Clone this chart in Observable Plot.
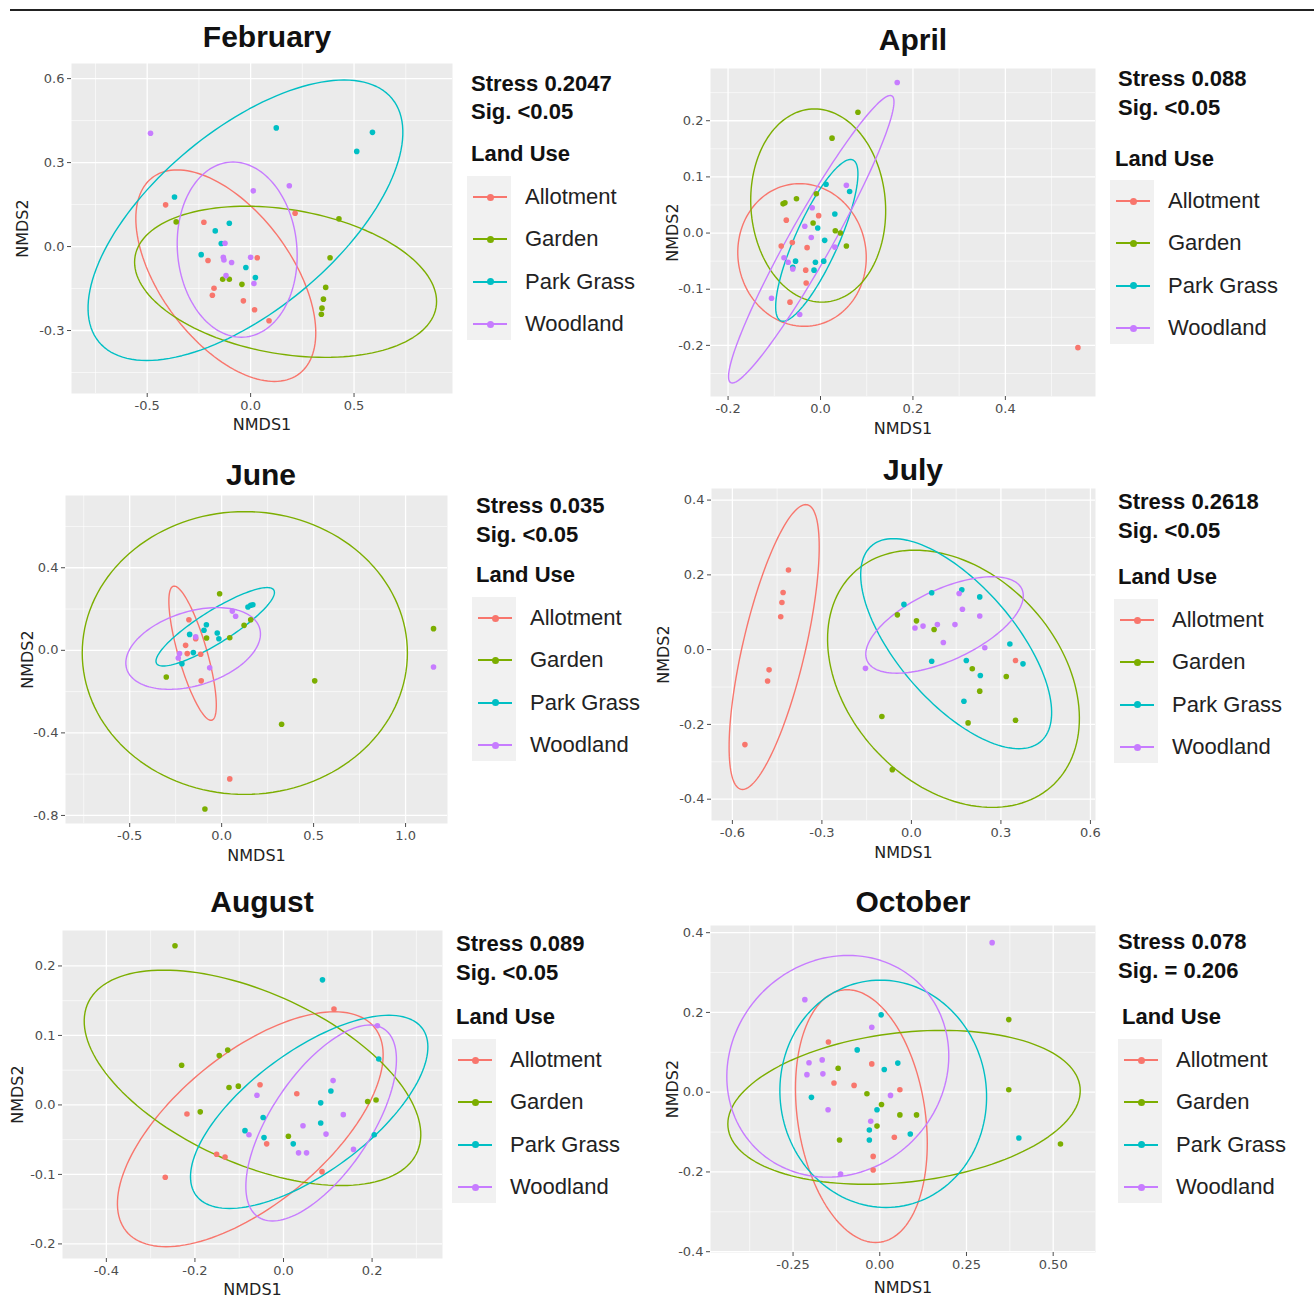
<!DOCTYPE html>
<html><head><meta charset="utf-8">
<script src="https://cdn.jsdelivr.net/npm/d3@7"></script>
<script src="https://cdn.jsdelivr.net/npm/@observablehq/plot@0.6"></script>
<style>
body{margin:0;background:#fff;}
#root{position:relative;width:1314px;height:1300px;overflow:hidden;font-family:"Liberation Sans",Arial,sans-serif;color:#111;}
.t{position:absolute;white-space:nowrap;line-height:1;transform:translateY(-50%);}
.p{position:absolute;}
</style></head><body><div id="root"></div>
<script>
const GROUPS = ["Allotment","Garden","Park Grass","Woodland"];
const COLORS = ["#F8766D","#7CAE00","#00BFC4","#C77CFF"];

const panelTitles = ["February","April","June","July","August","October"];
const stressLabels = ["Stress 0.2047","Stress 0.088","Stress 0.035","Stress 0.2618","Stress 0.089","Stress 0.078"];
const sigLabels = ["Sig. <0.05","Sig. <0.05","Sig. <0.05","Sig. <0.05","Sig. <0.05","Sig. = 0.206"];

// axis ranges and ticks
const xDomains = [[-0.866,0.976],[-0.238,0.595],[-0.849,1.228],[-0.67,0.617],[-0.499,0.359],[-0.488,0.622]];
const yDomains = [[-0.525,0.654],[-0.291,0.293],[-0.839,0.75],[-0.457,0.431],[-0.221,0.251],[-0.402,0.418]];
const xTicks = [[-0.5,0,0.5],[-0.2,0,0.2,0.4],[-0.5,0,0.5,1.0],[-0.6,-0.3,0,0.3,0.6],[-0.4,-0.2,0,0.2],[-0.25,0,0.25,0.5]];
const yTicks = [[-0.3,0,0.3,0.6],[-0.2,-0.1,0,0.1,0.2],[-0.8,-0.4,0,0.4],[-0.4,-0.2,0,0.2,0.4],[-0.2,-0.1,0,0.1,0.2],[-0.4,-0.2,0,0.2,0.4]];
const xMinor = [[-0.75,-0.25,0.25,0.75],[-0.1,0.1,0.3,0.5],[-0.75,-0.25,0.25,0.75],[-0.45,-0.15,0.15,0.45],[-0.3,-0.1,0.1,0.3],[-0.375,-0.125,0.125,0.375]];
const yMinor = [[-0.45,-0.15,0.15,0.45],[-0.25,-0.15,-0.05,0.05,0.15,0.25],[-0.6,-0.2,0.2,0.6],[-0.3,-0.1,0.1,0.3],[-0.15,-0.05,0.05,0.15],[-0.3,-0.1,0.1,0.3]];
const xTickDecimals = [1,1,1,1,1,2];
const yTickDecimals = [1,1,1,1,1,1];

// ---- February
const febAllotment = [[-0.411,0.149],[-0.226,0.087],[-0.206,-0.05],[0.032,-0.04],[0.215,0.119],[-0.177,-0.149],[-0.185,-0.174],[-0.035,-0.194],[0.019,-0.226],[0.089,-0.265]];
const febGarden = [[-0.36,0.088],[0.427,0.099],[0.384,-0.04],[0.363,-0.146],[0.352,-0.188],[0.345,-0.22],[0.342,-0.242],[-0.135,-0.117],[-0.103,-0.117],[-0.042,-0.135]];
const febPark = [[0.124,0.424],[0.589,0.408],[0.513,0.34],[-0.368,0.177],[-0.103,0.083],[-0.171,0.056],[-0.142,0.011],[-0.239,-0.029],[-0.023,-0.075],[0.023,-0.111]];
const febWood = [[-0.484,0.405],[0.013,0.199],[0.187,0.217],[-0.124,0.012],[-0.132,-0.038],[-0.129,-0.048],[-0.092,-0.057],[0.0,-0.038],[-0.119,-0.104],[0.016,-0.132]];
// ellipses: [group, centre x, centre y, half x-extent, half y-extent, x offset of top point]
const febEllipses = [["Allotment",-0.12,-0.104,0.435,0.378,-0.235],["Garden",0.169,-0.126,0.73,0.27,-0.19],["Park Grass",-0.025,0.094,0.761,0.501,0.477],["Woodland",-0.065,-0.011,0.29,0.313,-0.02]];

// ---- April
const aprAllotment = [[-0.074,0.023],[-0.004,0.031],[-0.085,-0.023],[-0.061,-0.017],[-0.029,-0.026],[-0.032,-0.066],[-0.031,-0.089],[-0.066,-0.123],[0.557,-0.204]];
const aprGarden = [[0.081,0.215],[0.025,0.169],[-0.081,0.052],[-0.077,0.054],[-0.052,0.061],[-0.009,0.07],[-0.016,0.018],[0.032,0.004],[0.043,0.0],[0.056,-0.023]];
const aprPark = [[0.012,0.087],[0.063,0.074],[0.031,0.034],[-0.006,0.009],[0.009,-0.013],[-0.054,-0.05],[-0.011,-0.052],[0.007,-0.05],[-0.014,-0.066],[-0.06,-0.061]];
const aprWood = [[0.166,0.268],[0.056,0.085],[-0.018,0.045],[-0.034,0.012],[-0.02,-0.008],[-0.07,-0.052],[-0.06,-0.064],[0.031,-0.025],[-0.106,-0.116],[-0.045,-0.145],[-0.079,-0.044]];
const aprEllipses = [["Allotment",-0.04,-0.039,0.139,0.127,-0.005],["Garden",-0.005,0.049,0.146,0.172,-0.008],["Park Grass",-0.008,-0.013,0.089,0.144,0.073],["Woodland",-0.02,-0.011,0.179,0.256,0.171]];

// ---- June
const junAllotment = [[-0.178,0.148],[-0.196,0.024],[-0.187,-0.016],[-0.114,-0.019],[-0.111,-0.148],[0.044,-0.623],[-0.141,0.056]];
const junGarden = [[-0.011,0.274],[1.152,0.105],[-0.301,-0.129],[0.506,-0.148],[0.326,-0.358],[-0.091,-0.769],[0.122,0.121],[0.158,0.148],[0.044,0.061],[-0.082,0.06]];
const junPark = [[0.158,0.218],[0.143,0.21],[0.17,0.221],[-0.083,0.124],[-0.096,0.097],[-0.174,0.077],[-0.024,0.084],[-0.015,0.056],[-0.154,-0.011],[-0.216,-0.065]];
const junWood = [[1.152,-0.081],[0.058,0.19],[0.076,0.165],[-0.141,0.065],[-0.065,-0.085],[-0.229,-0.016],[-0.236,-0.037]];
const junEllipses = [["Allotment",-0.158,-0.014,0.129,0.325,-0.1],["Garden",0.126,-0.013,0.884,0.685,0.0],["Park Grass",-0.035,0.114,0.322,0.19,0.282],["Woodland",-0.155,0.009,0.366,0.198,0.13]];

// ---- July
const julAllotment = [[-0.412,0.213],[-0.43,0.153],[-0.434,0.126],[-0.438,0.088],[-0.477,-0.054],[-0.482,-0.084],[-0.558,-0.254],[0.349,-0.029]];
const julGarden = [[-0.047,0.093],[0.017,0.077],[0.076,0.054],[0.204,-0.051],[0.318,-0.072],[0.229,-0.111],[-0.099,-0.179],[0.19,-0.196],[0.349,-0.189],[-0.064,-0.321]];
const julPark = [[-0.025,0.121],[0.068,0.152],[0.169,0.16],[0.229,0.141],[0.33,0.015],[0.374,-0.038],[0.068,-0.031],[0.184,-0.029],[0.231,-0.069],[0.176,-0.138]];
const julWood = [[0.16,0.15],[0.171,0.108],[0.229,0.09],[0.012,0.058],[0.039,0.063],[0.087,0.067],[0.146,0.067],[0.107,0.019],[0.246,0.005],[-0.154,-0.05]];
const julEllipses = [["Allotment",-0.46,0.007,0.151,0.381,0.106],["Garden",0.141,-0.078,0.422,0.344,-0.13],["Park Grass",0.15,0.016,0.32,0.281,-0.21],["Woodland",0.111,0.066,0.264,0.129,0.16]];

// ---- August
const augAllotment = [[0.114,0.138],[-0.053,0.029],[0.03,0.016],[-0.218,-0.013],[-0.038,-0.056],[-0.151,-0.071],[-0.132,-0.075],[0.087,-0.096],[-0.267,-0.104]];
const augGarden = [[-0.245,0.229],[-0.23,0.057],[-0.145,0.071],[-0.126,0.079],[-0.123,0.025],[-0.102,0.027],[-0.188,-0.01],[0.011,-0.045],[0.19,0.005],[0.209,0.007]];
const augPark = [[0.088,0.18],[0.215,0.066],[0.084,0.003],[0.107,0.02],[-0.046,-0.018],[-0.087,-0.037],[-0.044,-0.047],[0.022,-0.056],[0.084,-0.026],[0.205,-0.043]];
const augWood = [[0.212,0.114],[0.112,0.035],[-0.06,0.014],[0.135,-0.014],[0.044,-0.03],[-0.078,-0.043],[0.096,-0.042],[0.034,-0.069],[0.052,-0.069],[0.158,-0.064]];
const augEllipses = [["Allotment",-0.075,-0.035,0.3,0.169,0.19],["Garden",-0.07,0.039,0.38,0.155,-0.2],["Park Grass",0.058,-0.01,0.268,0.139,0.18],["Woodland",0.085,-0.026,0.17,0.141,0.11]];

// ---- October
const octAllotment = [[-0.148,0.126],[-0.023,0.071],[-0.132,0.023],[-0.074,0.017],[0.058,0.006],[0.042,-0.113],[-0.019,-0.161],[-0.019,-0.195]];
const octGarden = [[0.372,0.182],[0.372,0.006],[0.521,-0.13],[-0.12,0.06],[-0.037,-0.004],[0.005,-0.031],[-0.008,-0.085],[0.058,-0.057],[0.106,-0.057],[-0.116,-0.12]];
const octPark = [[0.004,0.194],[-0.065,0.106],[0.013,0.057],[0.052,0.073],[-0.197,-0.013],[-0.008,-0.044],[-0.03,-0.095],[-0.03,-0.12],[0.088,-0.105],[0.401,-0.115]];
const octWood = [[0.324,0.375],[-0.216,0.232],[-0.023,0.163],[-0.204,0.074],[-0.166,0.081],[-0.21,0.044],[-0.164,0.046],[-0.149,-0.044],[0.031,-0.008],[-0.026,-0.073],[-0.113,-0.205]];
const octEllipses = [["Allotment",-0.053,-0.06,0.19,0.317,-0.041],["Garden",0.07,-0.038,0.508,0.193,0.11],["Park Grass",0.01,-0.004,0.298,0.285,-0.008],["Woodland",-0.121,0.065,0.32,0.278,0.03]];

const panelPoints = [
  [febAllotment,febGarden,febPark,febWood],
  [aprAllotment,aprGarden,aprPark,aprWood],
  [junAllotment,junGarden,junPark,junWood],
  [julAllotment,julGarden,julPark,julWood],
  [augAllotment,augGarden,augPark,augWood],
  [octAllotment,octGarden,octPark,octWood]
];
const panelEllipses = [febEllipses,aprEllipses,junEllipses,julEllipses,augEllipses,octEllipses];

// ---- layout (pixels)
const frames = [[71,63,452,393],[710,68,1095,396],[65,495,447,823],[711,488,1095,820],[62,930,442,1258],[710,925,1095,1252]];
const titlePos = [[267,37],[913,40],[261,475],[913,470],[262,902],[913,902]];
const stressPos = [[471,84,112,471,154],[1118,79,108,1115,159],[476,506,535,476,575],[1118,502,531,1118,577],[456,944,973,456,1017],[1118,942,971,1122,1017]];
const legendPos = [[525,197],[1168,201],[530,618],[1172,620],[510,1060],[1176,1060]];
const ylabDx = [-49,-38,-38,-48,-45,-38];
const xlabDy = [31,32,32,32,31,35];

const root = document.getElementById("root");
function addText(txt, x, y, css, center) {
  const d = document.createElement("div");
  d.className = "t";
  d.textContent = txt;
  d.style.left = x + "px"; d.style.top = y + "px";
  Object.assign(d.style, css);
  if (center) d.style.transform = "translate(-50%,-50%)";
  root.appendChild(d);
  return d;
}
function addBox(x, y, w, h, css) {
  const d = document.createElement("div");
  d.className = "p";
  Object.assign(d.style, {left: x + "px", top: y + "px", width: w + "px", height: h + "px"}, css);
  root.appendChild(d);
  return d;
}

function ellipseOutline(e) {
  const [g, cx, cy, W, H, dx] = e;
  const bx = Math.sqrt(Math.max(W * W - dx * dx, 0));
  const out = [];
  for (let i = 0; i <= 144; i++) {
    const t = i / 144 * 2 * Math.PI;
    out.push({group: g, x: cx + dx * Math.cos(t) + bx * Math.sin(t), y: cy + H * Math.cos(t)});
  }
  return out;
}

// top rule
addBox(10, 9, 1304, 2, {background: "#222"});

const ML = 60, MR = 10, MT = 10, MB = 50;
for (let p = 0; p < 6; p++) {
  const [L, T, R, B] = frames[p];
  const pts = [];
  panelPoints[p].forEach((arr, gi) => arr.forEach(([x, y]) => pts.push({group: GROUPS[gi], x, y})));
  const ell = panelEllipses[p].flatMap(ellipseOutline);
  const nx = xTickDecimals[p], ny = yTickDecimals[p];
  const chart = Plot.plot({
    width: (R - L) + ML + MR, height: (B - T) + MT + MB,
    marginLeft: ML, marginRight: MR, marginTop: MT, marginBottom: MB,
    x: {domain: xDomains[p], label: null},
    y: {domain: yDomains[p], label: null},
    color: {domain: GROUPS, range: COLORS},
    style: {fontFamily: "DejaVu Sans", fontSize: "13px", background: "transparent", overflow: "visible"},
    marks: [
      Plot.frame({fill: "#EBEBEB", stroke: "none"}),
      Plot.ruleX(xMinor[p], {stroke: "#fff", strokeWidth: 0.6, clip: true}),
      Plot.ruleY(yMinor[p], {stroke: "#fff", strokeWidth: 0.6, clip: true}),
      Plot.ruleX(xTicks[p], {stroke: "#fff", strokeWidth: 1.3, clip: true}),
      Plot.ruleY(yTicks[p], {stroke: "#fff", strokeWidth: 1.3, clip: true}),
      Plot.line(ell, {x: "x", y: "y", z: "group", stroke: "group", strokeWidth: 1.4, clip: true}),
      Plot.dot(pts, {x: "x", y: "y", fill: "group", r: 2.8, stroke: "none"}),
      Plot.axisX(xTicks[p], {tickSize: 4, tickPadding: 3, tickFormat: d => d.toFixed(nx), color: "#4d4d4d", label: null}),
      Plot.axisY(yTicks[p], {tickSize: 4, tickPadding: 3, tickFormat: d => d.toFixed(ny), color: "#4d4d4d", label: null}),
      Plot.text(["NMDS1"], {text: d => d, frameAnchor: "bottom", lineAnchor: "middle", textAnchor: "middle", dy: xlabDy[p], fontSize: 16, fill: "#222"}),
      Plot.text(["NMDS2"], {text: d => d, frameAnchor: "left", lineAnchor: "middle", textAnchor: "middle", dx: ylabDx[p], rotate: -90, fontSize: 16, fill: "#222"})
    ]
  });
  chart.style.position = "absolute";
  chart.style.left = (L - ML) + "px";
  chart.style.top = (T - MT) + "px";
  root.appendChild(chart);

  // title
  addText(panelTitles[p], titlePos[p][0], titlePos[p][1], {fontSize: "30px", fontWeight: "bold"}, true);
  // stress / sig / legend title
  const [sx, sy1, sy2, lx, ly] = stressPos[p];
  addText(stressLabels[p], sx, sy1, {fontSize: "22px", fontWeight: "bold"});
  addText(sigLabels[p], sx, sy2, {fontSize: "22px", fontWeight: "bold"});
  addText("Land Use", lx, ly, {fontSize: "22px", fontWeight: "bold"});
  // legend
  const [tx, ty] = legendPos[p];
  const dotX = tx - 35, step = 42.4;
  addBox(dotX - 23, ty - 21, 44, 3 * step + 37, {background: "#F1F1F1"});
  GROUPS.forEach((g, i) => {
    const y = ty + i * step;
    addBox(dotX - 17, y - 1, 34, 2, {background: COLORS[i]});
    addBox(dotX - 3.5, y - 3.5, 7, 7, {background: COLORS[i], borderRadius: "50%"});
    addText(g, tx, y, {fontSize: "22px", color: "#222"});
  });
}
</script>
</body></html>
